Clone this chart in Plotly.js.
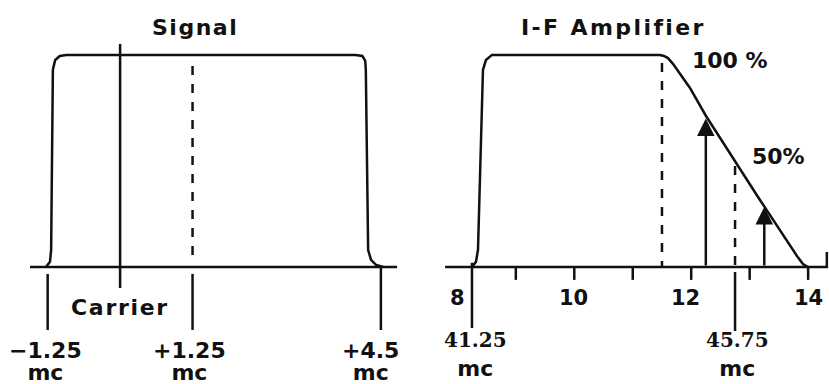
<!DOCTYPE html>
<html>
<head>
<meta charset="utf-8">
<script src="https://cdn.plot.ly/plotly-3.0.1.min.js"></script>
<style>html,body{margin:0;padding:0;background:#fff;}#chart{width:829px;height:384px;}</style>
</head>
<body>
<div id="chart"></div>
<script>
// ---------- Left panel: video signal (MHz relative to picture carrier) ----------
const signalX = [-1.28, -1.21, -1.19, -1.16, -1.12, -1.04, -0.93, 4.06, 4.18, 4.23, 4.24, 4.28, 4.33, 4.42, 4.54];
const signalY = [0, 0.024, 0.08, 0.93, 0.976, 0.995, 1.0, 1.0, 0.995, 0.972, 0.93, 0.08, 0.033, 0.009, 0];
const signalBaseX = [-1.555, 4.78];
const carrierPos = 0;
const carrierSpan = [-0.099, 1.052];
const soundSideDashX = 1.25;
const soundSideDashSpan = [0.948, 0.04];
const leftMarkX = [-1.25, 1.25, 4.5];
const leftMarkTop = [-0.033, -0.033, 0];
const leftMarkBottom = -0.297;
const leftMarkLabels = ["\u22121.25", "+1.25", "+4.5"];
const unitLabel = "mc";

// ---------- Right panel: I-F amplifier response ----------
const ifCurveX = [8.25, 8.318, 8.353, 8.438, 8.489, 8.592, 11.466, 11.534, 11.603, 11.688, 11.979, 12.253, 13.176, 13.69, 13.809, 13.912, 13.997];
const ifCurveY = [0, 0.024, 0.08, 0.93, 0.976, 1.0, 1.0, 0.995, 0.985, 0.958, 0.844, 0.712, 0.316, 0.099, 0.052, 0.014, 0];
const ifBaseX = [7.79, 14.32, 14.32];
const ifBaseY = [0, 0, 0.07];
const ifTicks = [9, 10, 11, 12, 13, 14];
const ifTickLen = -0.061;
const ifTickLabelVals = [8, 10, 12, 14];
const ifTickLabels = ["8", "10", "12", "14"];
const ifTopDashX = 11.5;
const ifTopDashSpan = [0.962, 0];
const ifHalfDashX = 12.75;
const ifHalfDashSpan = [0.476, 0];
const ifMarkX = [8.25, 12.75];
const ifMarkTop = [0.02, -0.024];
const ifMarkBottom = [-0.288, -0.302];
const ifMarkLabels = ["41.25", "45.75"];
const arrowX = [12.25, 13.25];
const arrowTipY = [0.70, 0.283];
const levelLabels = ["100 %", "50%"];
const levelX = [12.663, 13.501];
const levelY = [0.972, 0.519];

const INK = "#111";
const LW = 2.5;

function segs(xs, y0s, y1s) {
  const X = [], Y = [];
  xs.forEach((x, i) => {
    X.push(x, x, null);
    Y.push(Array.isArray(y0s) ? y0s[i] : y0s, Array.isArray(y1s) ? y1s[i] : y1s, null);
  });
  return {X, Y};
}
function line(x, y, xa, extra) {
  return Object.assign({type: "scatter", mode: "lines", x: x, y: y, xaxis: xa, yaxis: "y",
    line: {color: INK, width: LW}, hoverinfo: "skip", showlegend: false, cliponaxis: false}, extra || {});
}

const lm = segs(leftMarkX, leftMarkTop, leftMarkBottom);
const rt = segs(ifTicks, 0, ifTickLen);
const rm = segs(ifMarkX, ifMarkTop, ifMarkBottom);

const traces = [
  line(signalBaseX, [0, 0], "x"),
  line(signalX, signalY, "x"),
  line([carrierPos, carrierPos], carrierSpan, "x"),
  line([soundSideDashX, soundSideDashX], soundSideDashSpan, "x", {line: {color: INK, width: LW, dash: "9px,9px"}}),
  line(lm.X, lm.Y, "x"),
  line(ifBaseX, ifBaseY, "x2"),
  line(ifCurveX, ifCurveY, "x2"),
  line(rt.X, rt.Y, "x2"),
  line(rm.X, rm.Y, "x2"),
  line([ifTopDashX, ifTopDashX], ifTopDashSpan, "x2", {line: {color: INK, width: LW, dash: "9px,9px"}}),
  line([ifHalfDashX, ifHalfDashX], ifHalfDashSpan, "x2", {line: {color: INK, width: LW, dash: "9px,9px"}})
];

const sans = {family: "DejaVu Sans", color: INK, weight: "bold"};
const ann = [];
function txt(text, xref, x, y, size, extra) {
  ann.push(Object.assign({text: text, xref: xref, yref: "y", x: x, y: y, showarrow: false, borderpad: 0,
    xanchor: "center", yanchor: "middle", font: Object.assign({}, sans, {size: size})}, extra || {}));
}
// titles
txt('<span style="letter-spacing:1.5px">Signal</span>', "paper", 195 / 829, 1.13, 22);
txt('<span style="letter-spacing:2.4px">I-F Amplifier</span>', "paper", 613 / 829, 1.13, 22);
txt('<span style="letter-spacing:1.7px">Carrier</span>', "x", carrierPos, -0.189, 22);
// left marker labels (value + unit on two lines)
const leftShift = [-2, -3, -10];
leftMarkLabels.forEach((t, i) => {
  txt('<span style="font-size:22px">' + t + '</span><br><span style="font-size:22px">' + unitLabel + '</span>',
      "x", leftMarkX[i], -0.444, 17, {xshift: leftShift[i]});
});
// right tick labels
const tickShift = [0, -1, -6, 0];
ifTickLabels.forEach((t, i) => txt(t, "x2", ifTickLabelVals[i], -0.146, 21, {xshift: tickShift[i]}));
// right marker labels (serif figures, sans unit)
ifMarkLabels.forEach((t, i) => {
  txt('<span style="font-family:DejaVu Serif;font-size:20px">' + t + '</span><br>' + unitLabel,
      "x2", ifMarkX[i], -0.415, 22, {xshift: [4, 2][i]});
});
// level labels
levelLabels.forEach((t, i) => txt(t, "x2", levelX[i], levelY[i], 22));
// arrows
arrowX.forEach((x, i) => {
  ann.push({xref: "x2", yref: "y", x: x, y: arrowTipY[i], axref: "x2", ayref: "y", ax: x, ay: 0,
    showarrow: true, arrowhead: 2, arrowsize: 1.4, arrowwidth: LW, arrowcolor: INK, text: "", standoff: 0});
});

const layout = {
  width: 829, height: 384,
  margin: {l: 0, r: 0, t: 0, b: 0, pad: 0},
  paper_bgcolor: "#fff", plot_bgcolor: "#fff",
  showlegend: false,
  xaxis: {domain: [0, 0.49], range: [-2.0725, 4.937], visible: false, anchor: "y", fixedrange: true},
  xaxis2: {domain: [0.506, 1], range: [7.352, 14.357], visible: false, anchor: "y", fixedrange: true},
  yaxis: {domain: [0, 1], range: [-0.552, 1.259], visible: false, fixedrange: true},
  annotations: ann
};

Plotly.newPlot("chart", traces, layout, {staticPlot: true, displayModeBar: false});
</script>
</body>
</html>
